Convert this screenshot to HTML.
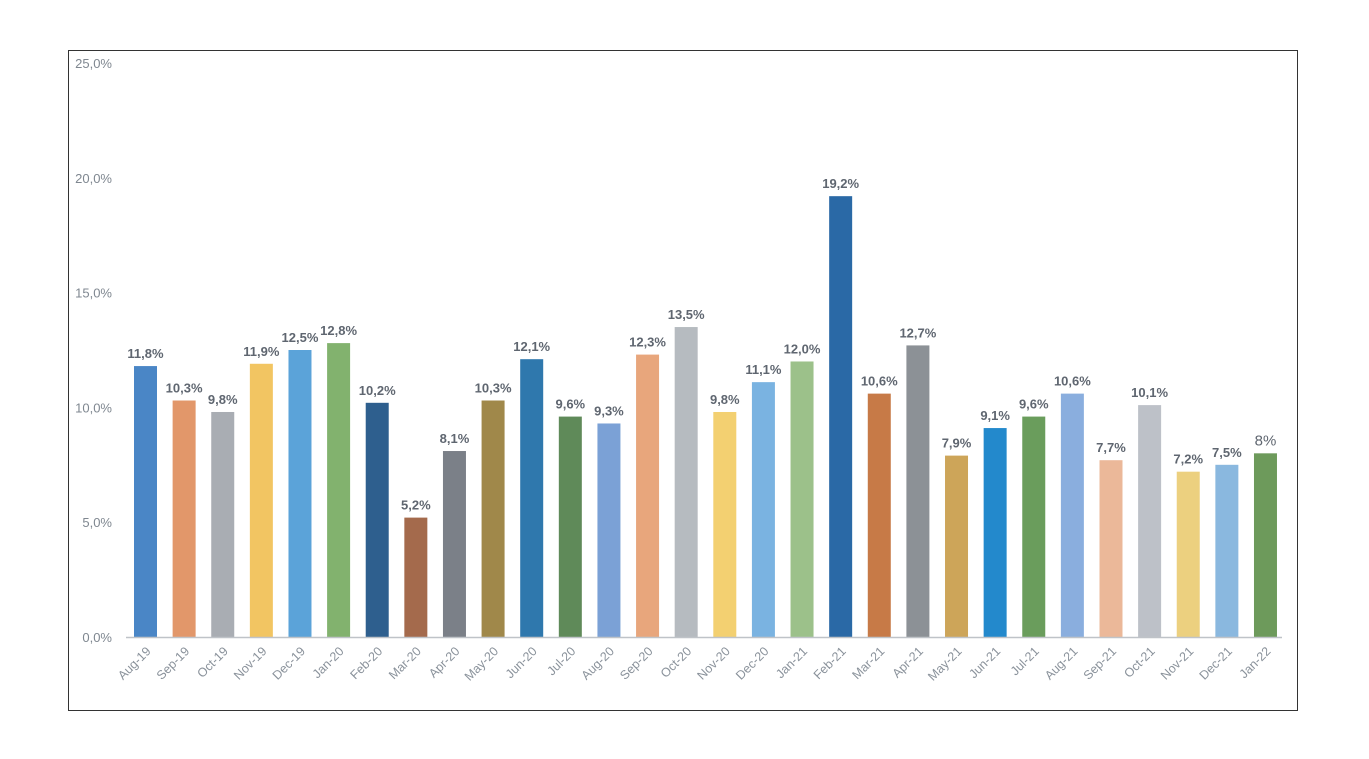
<!DOCTYPE html>
<html><head><meta charset="utf-8"><style>
body{margin:0;background:#fff;}
svg text{font-family:"Liberation Sans",sans-serif;}
</style></head><body>
<svg width="1369" height="754" viewBox="0 0 1369 754">
<rect x="68.5" y="50.5" width="1229" height="660" fill="#fff" stroke="#333" stroke-width="1"/>
<g id="yaxis"></g>
<g id="bars"></g>
<line x1="126" y1="637.5" x2="1282" y2="637.5" stroke="#bfc3c8" stroke-width="1.5"/>
</svg>
<script>
const categories=["Aug-19","Sep-19","Oct-19","Nov-19","Dec-19","Jan-20","Feb-20","Mar-20","Apr-20","May-20","Jun-20","Jul-20","Aug-20","Sep-20","Oct-20","Nov-20","Dec-20","Jan-21","Feb-21","Mar-21","Apr-21","May-21","Jun-21","Jul-21","Aug-21","Sep-21","Oct-21","Nov-21","Dec-21","Jan-22"];
const values=[11.8,10.3,9.8,11.9,12.5,12.8,10.2,5.2,8.1,10.3,12.1,9.6,9.3,12.3,13.5,9.8,11.1,12.0,19.2,10.6,12.7,7.9,9.1,9.6,10.6,7.7,10.1,7.2,7.5,8];
const valueLabels=["11,8%","10,3%","9,8%","11,9%","12,5%","12,8%","10,2%","5,2%","8,1%","10,3%","12,1%","9,6%","9,3%","12,3%","13,5%","9,8%","11,1%","12,0%","19,2%","10,6%","12,7%","7,9%","9,1%","9,6%","10,6%","7,7%","10,1%","7,2%","7,5%","8%"];
const yTicks=[0,5,10,15,20,25];
const yTickLabels=["0,0%","5,0%","10,0%","15,0%","20,0%","25,0%"];
const colors=["#4a86c6","#e2976a","#a9adb3","#f2c562","#5ba3d9","#82b26e","#2e5f8e","#a46a4c","#7b8088","#a0884a","#2f78ad","#5f8a59","#7ba1d6","#e8a67c","#b6bbc0","#f3d071","#7ab3e1","#9cc18a","#2a69a6","#c77a47","#8c9196","#cda559","#2389cc","#6a9d5c","#8aaede","#ebb899","#bdc1c8","#ecd07f","#8ab8df","#6d9a5b"];
const y=v=>637-v*114.8/5;
const x=i=>145.5+i*38.62;
const NS="http://www.w3.org/2000/svg";
const ya=document.getElementById('yaxis'),bg=document.getElementById('bars');
yTicks.forEach((t,i)=>{const e=document.createElementNS(NS,'text');


e.setAttribute('x',112);e.setAttribute('y',y(t)+5);e.setAttribute('text-anchor','end');e.setAttribute('font-size','13');e.setAttribute('fill','#7f8790');e.textContent=yTickLabels[i];ya.appendChild(e);});
categories.forEach((c,i)=>{
const r=document.createElementNS(NS,'rect');


r.setAttribute('x',x(i)-11.5);r.setAttribute('y',y(values[i]));r.setAttribute('width',23);r.setAttribute('height',637-y(values[i]));r.setAttribute('fill',colors[i]);bg.appendChild(r);
const l=document.createElementNS(NS,'text');


l.setAttribute('x',x(i));l.setAttribute('y',y(values[i])-8);l.setAttribute('text-anchor','middle');l.setAttribute('font-size',i==29?'15':'13');l.setAttribute('font-weight',i==29?'normal':'bold');l.setAttribute('fill','#5f6670');l.textContent=valueLabels[i];bg.appendChild(l);
const t=document.createElementNS(NS,'text');


t.setAttribute('x',x(i)+6);t.setAttribute('y',652);t.setAttribute('text-anchor','end');t.setAttribute('font-size','12.5');t.setAttribute('fill','#8a929b');t.setAttribute('transform','rotate(-45 '+(x(i)+6)+' 652)');t.textContent=c;bg.appendChild(t);
});
</script>
</body></html>
